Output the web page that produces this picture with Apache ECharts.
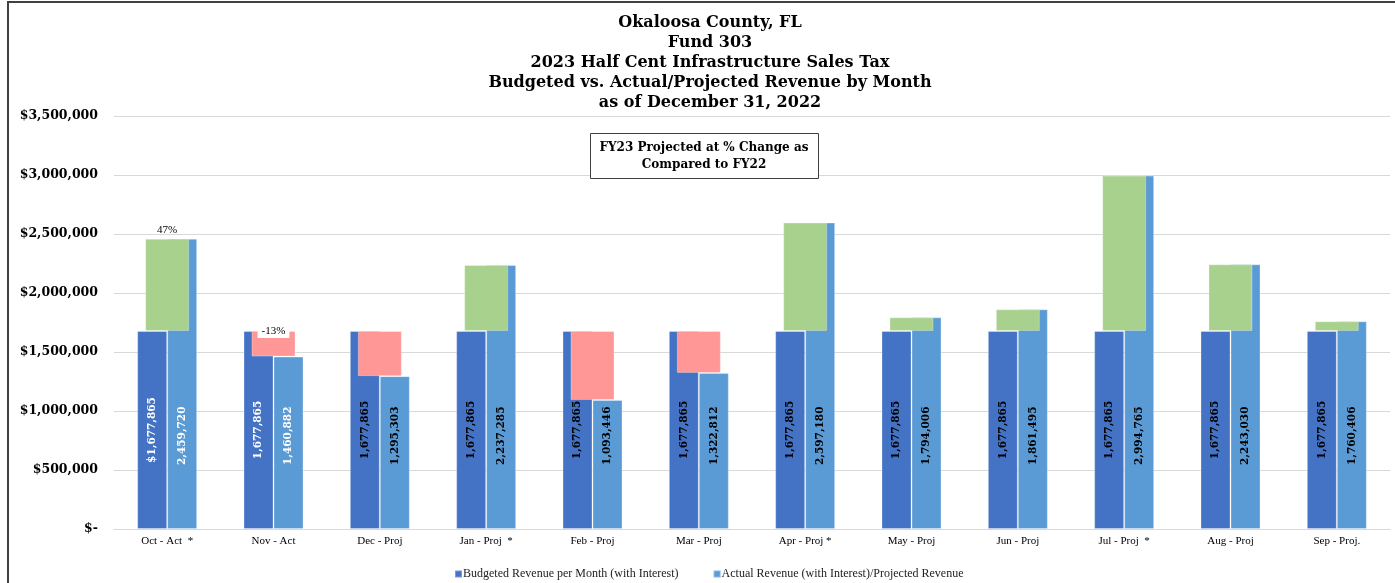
<!DOCTYPE html>
<html><head><meta charset="utf-8">
<script src="https://cdn.jsdelivr.net/npm/echarts@6/dist/echarts.min.js"></script>
<style>html,body{margin:0;padding:0;background:#fff}#c{width:1395px;height:583px}</style>
</head><body><div id="c"></div>
<script>
const categories = ['Oct - Act  *', 'Nov - Act', 'Dec - Proj', 'Jan - Proj  *', 'Feb - Proj', 'Mar - Proj', 'Apr - Proj *', 'May - Proj', 'Jun - Proj', 'Jul - Proj  *', 'Aug - Proj', 'Sep - Proj.'];
const budgeted = [1677865, 1677865, 1677865, 1677865, 1677865, 1677865, 1677865, 1677865, 1677865, 1677865, 1677865, 1677865];
const actual = [2459720, 1460882, 1295303, 2237285, 1093446, 1322812, 2597180, 1794006, 1861495, 2994765, 2243030, 1760406];
const titleLines = ['Okaloosa County, FL', 'Fund 303', '2023 Half Cent Infrastructure Sales Tax', 'Budgeted vs. Actual/Projected Revenue by Month', 'as of December 31, 2022'];
const noteLines = ['FY23 Projected at % Change as', 'Compared to FY22'];
const seriesNames = ['Budgeted Revenue per Month (with Interest)', 'Actual Revenue (with Interest)/Projected Revenue'];

const BOLD = '"DejaVu Serif", Georgia, serif';
const REG = '"Liberation Serif", Georgia, serif';
const fmt = v => v.toLocaleString('en-US');
const isActual = i => categories[i].indexOf('Act') >= 0;

const baseData = actual.map((a, i) => Math.min(a, budgeted[i]));
const diffData = actual.map((a, i) => {
  const up = a >= budgeted[i];
  let label;
  if (!isActual(i)) label = { show: false };
  else if (up) label = { position: 'top', distance: 3 };
  else label = { position: 'top', distance: -7, backgroundColor: '#fff', padding: [1, 4] };
  return {
    value: Math.abs(a - budgeted[i]),
    itemStyle: { color: up ? '#A9D18E' : '#FF9797' },
    label: label
  };
});

const chart = echarts.init(document.getElementById('c'));
chart.setOption({
  animation: false,
  backgroundColor: '#fff',
  graphic: [{
    type: 'text', silent: true, z: 60,
    x: 710, y: 13,
    style: {
      text: titleLines.join('\n'), fill: '#000',
      font: 'bold 16px ' + BOLD, align: 'center', verticalAlign: 'top', lineHeight: 20
    }
  }, {
    type: 'rect', silent: true, z: 100,
    shape: { x: 8, y: 2, width: 1420, height: 620 },
    style: { fill: 'none', stroke: '#404040', lineWidth: 2 }
  }, {
    type: 'rect', silent: true, z: 50,
    shape: { x: 590.5, y: 133.5, width: 228, height: 45 },
    style: { fill: '#fff', stroke: '#404040', lineWidth: 1 }
  }, {
    type: 'text', silent: true, z: 51,
    x: 704, y: 156,
    style: {
      text: noteLines.join('\n'), fill: '#000',
      font: 'bold 12px ' + BOLD, align: 'center', verticalAlign: 'middle', lineHeight: 17
    }
  }],
  legend: {
    data: seriesNames,
    left: 449, top: 563,
    icon: 'rect', itemWidth: 7, itemHeight: 7, itemGap: 34,
    textStyle: { fontFamily: REG, fontSize: 12, color: '#222', padding: [0, 0, 0, -4] }
  },
  grid: { left: 114, right: 5, top: 116, bottom: 54 },
  xAxis: [{
    type: 'category', data: categories,
    axisTick: { show: false },
    axisLine: { lineStyle: { color: '#D9D9D9' } },
    axisLabel: { fontFamily: REG, fontSize: 11, color: '#000', margin: 7 }
  }, {
    type: 'category', data: categories, show: false
  }],
  yAxis: {
    type: 'value', min: 0, max: 3500000, interval: 500000,
    splitLine: { lineStyle: { color: '#D9D9D9' } },
    axisLine: { show: false }, axisTick: { show: false },
    axisLabel: {
      fontFamily: BOLD, fontWeight: 'bold', fontSize: 12.5, color: '#000', margin: 16,
      formatter: v => v === 0 ? '$-' : '$' + fmt(v)
    }
  },
  series: [{
    name: seriesNames[0], type: 'bar', barWidth: 30, barGap: '0%',
    itemStyle: { color: '#4472C4', borderColor: 'rgba(255,255,255,0.3)', borderWidth: 1 },
    data: budgeted.map((v, i) => ({ value: v, label: { color: isActual(i) ? '#fff' : '#000' } })),
    label: {
      show: true, position: 'inside', rotate: 90,
      fontFamily: BOLD, fontWeight: 'bold', fontSize: 10.5,
      formatter: p => (p.dataIndex === 0 ? '$' : '') + fmt(p.value)
    }
  }, {
    name: seriesNames[1], type: 'bar', barWidth: 30, barGap: '0%',
    itemStyle: { color: '#5B9BD5', borderColor: 'rgba(255,255,255,0.3)', borderWidth: 1 },
    data: actual.map((v, i) => ({ value: v, label: { color: isActual(i) ? '#fff' : '#000' } })),
    label: {
      show: true, position: 'insideBottom', distance: 64, rotate: 90, align: 'left', verticalAlign: 'middle',
      fontFamily: BOLD, fontWeight: 'bold', fontSize: 10.5,
      formatter: p => fmt(p.value)
    }
  }, {
    name: 'base', type: 'bar', xAxisIndex: 1, stack: 'diff', barWidth: 44, z: 3,
    itemStyle: { color: 'transparent' }, silent: true,
    data: baseData
  }, {
    name: 'diff', type: 'bar', xAxisIndex: 1, stack: 'diff', barWidth: 44, z: 3,
    itemStyle: { borderColor: 'rgba(255,255,255,0.3)', borderWidth: 1 },
    data: diffData,
    label: {
      show: true, fontFamily: REG, fontSize: 11, color: '#000',
      formatter: p => Math.round((actual[p.dataIndex] - budgeted[p.dataIndex]) / budgeted[p.dataIndex] * 100) + '%'
    }
  }]
});
</script></body></html>
